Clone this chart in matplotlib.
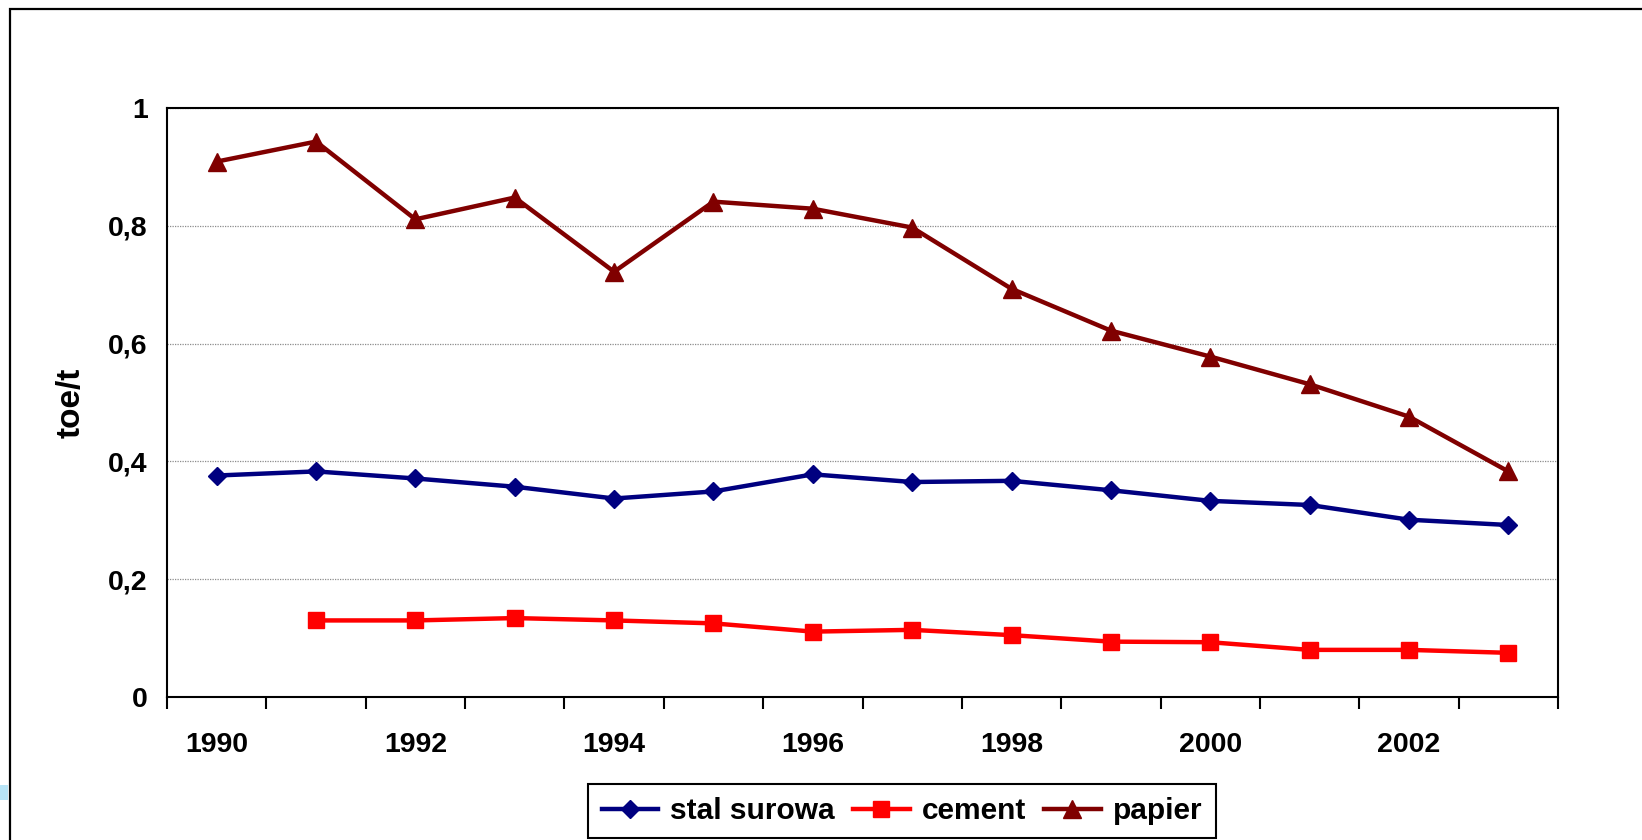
import numpy as np
import matplotlib.pyplot as plt
from matplotlib.patches import Rectangle

plt.rcParams['font.family'] = ['Liberation Sans', 'DejaVu Sans']
plt.rcParams['font.weight'] = 'bold'

# dane
lata = np.arange(1990, 2004)
stal_surowa = [0.376, 0.383, 0.371, 0.357, 0.337, 0.349, 0.378, 0.365, 0.367, 0.351, 0.333, 0.326, 0.301, 0.292]
cement = [np.nan, 0.130, 0.130, 0.134, 0.130, 0.125, 0.111, 0.114, 0.105, 0.094, 0.093, 0.080, 0.080, 0.075]
papier = [0.909, 0.943, 0.811, 0.848, 0.722, 0.841, 0.829, 0.797, 0.693, 0.622, 0.578, 0.531, 0.476, 0.383]
etykiety_x = [str(r) for r in lata[::2]]
etykiety_y = ['0', '0,2', '0,4', '0,6', '0,8', '1']

fig = plt.figure(figsize=(16.42, 8.40), dpi=100)
ax = fig.add_axes([167 / 1642, 143 / 840, (1558 - 167) / 1642, (697 - 108) / 840])

x = np.arange(len(lata))
ax.plot(x, stal_surowa, color='#000080', lw=3.2, marker='D', ms=9.5, label='stal surowa')
ax.plot(x, cement, color='#FF0000', lw=3.2, marker='s', ms=11, label='cement')
ax.plot(x, papier, color='#800000', lw=3.2, marker='^', ms=12.5, label='papier')

ax.set_xlim(-0.5, len(lata) - 0.5)
ax.set_ylim(0, 1)

# osie
ax.set_xticks(x[::2])
ax.set_xticklabels(etykiety_x, fontsize=20.5, fontweight='bold')
ax.set_xticks(np.arange(-0.5, len(lata)), minor=True)
ax.tick_params(axis='x', which='major', length=0, pad=25)
ax.tick_params(axis='x', which='minor', length=8.5, width=1.5, direction='out')
ax.set_yticks(np.linspace(0, 1, 6))
ax.set_yticklabels(etykiety_y, fontsize=20.5, fontweight='bold')
ax.tick_params(axis='y', length=0, pad=14)
ax.grid(axis='y', color='#8c8c8c', lw=0.9, linestyle=(0, (1, 1)))
ax.set_axisbelow(True)
for s in ax.spines.values():
    s.set_linewidth(1.5)
ax.set_ylabel('toe/t', fontsize=24, fontweight='bold')
ax.yaxis.set_label_coords(-0.058, 0.5)

leg = ax.legend(loc='center', bbox_to_anchor=(902 / 1642, 29 / 840), bbox_transform=fig.transFigure,
                ncol=3, fontsize=21.5, fancybox=False, framealpha=1, edgecolor='black',
                handlelength=1.9, columnspacing=0.6, handletextpad=0.4, borderpad=0.45)
leg.get_frame().set_linewidth(1.5)

# ramka wykresu
fig.patches.append(Rectangle((10 / 1642, -0.1), 1.2, 1.1 - 9 / 840, transform=fig.transFigure,
                             fill=False, edgecolor='black', lw=1.6))
fig.patches.append(Rectangle((0, 40 / 840), 8 / 1642, 15 / 840, transform=fig.transFigure,
                             facecolor='#b8e4f6', edgecolor='none'))

fig.savefig('out.png', dpi=100)
